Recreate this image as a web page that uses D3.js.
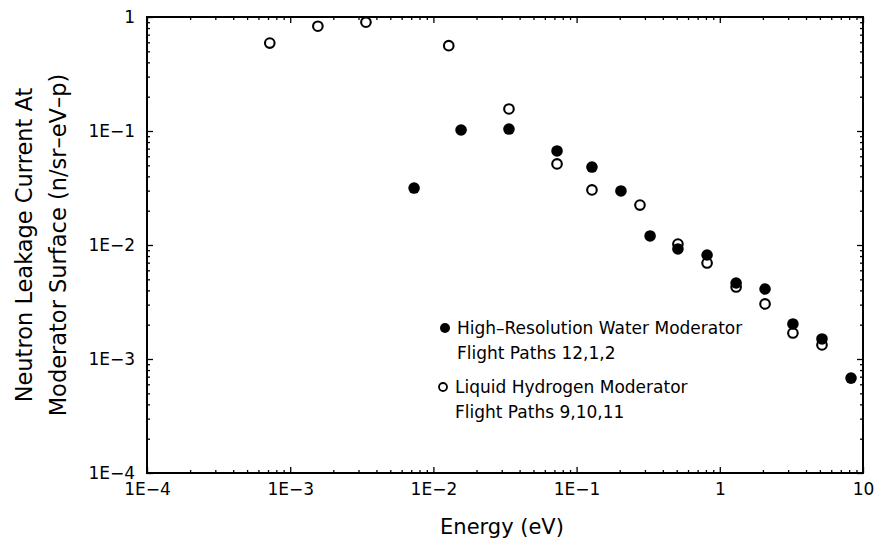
<!DOCTYPE html>
<html>
<head>
<meta charset="utf-8">
<script src="https://cdn.jsdelivr.net/npm/d3@7"></script>
<style>
  body { margin: 0; background: #fff; }
  svg { display: block; font-family: "DejaVu Sans", sans-serif; }
</style>
</head>
<body>
<div id="chart"></div>
<script>
// High-resolution water moderator, flight paths 12,1,2 (filled)
const waterEnergy = [0.00733, 0.0156, 0.0337, 0.073, 0.128, 0.204, 0.326, 0.51, 0.815, 1.30, 2.07, 3.24, 5.17, 8.25];
const waterCurrent = [0.0316, 0.102, 0.104, 0.0668, 0.0483, 0.0298, 0.0120, 0.00923, 0.00817, 0.00464, 0.00411, 0.00203, 0.00150, 0.00068];

// Liquid hydrogen moderator, flight paths 9,10,11 (open)
const hydrogenEnergy = [0.00072, 0.00156, 0.00338, 0.0128, 0.0337, 0.073, 0.128, 0.277, 0.51, 0.815, 1.30, 2.07, 3.24, 5.17];
const hydrogenCurrent = [0.59, 0.83, 0.90, 0.56, 0.156, 0.0514, 0.0304, 0.0224, 0.0102, 0.00695, 0.00428, 0.00304, 0.00169, 0.00133];

const xTicks = [1e-4, 1e-3, 1e-2, 1e-1, 1, 10];
const xTickLabels = ["1E\u22124", "1E\u22123", "1E\u22122", "1E\u22121", "1", "10"];
const yTicks = [1e-4, 1e-3, 1e-2, 1e-1, 1];
const yTickLabels = ["1E\u22124", "1E\u22123", "1E\u22122", "1E\u22121", "1"];

const width = 877, height = 543;
const margin = {top: 17, right: 14, bottom: 70, left: 147};
const iw = width - margin.left - margin.right;
const ih = height - margin.top - margin.bottom;

const svg = d3.select("#chart").append("svg")
  .attr("width", width)
  .attr("height", height);

const g = svg.append("g")
  .attr("transform", `translate(${margin.left},${margin.top})`);

const x = d3.scaleLog().domain([1e-4, 10]).range([0, iw]);
const y = d3.scaleLog().domain([1e-4, 1]).range([ih, 0]);

// minor ticks: 2..9 of every decade
const minor = (scale) => scale.ticks().filter((t) => {
  const m = t / Math.pow(10, Math.floor(Math.log10(t) + 1e-9));
  return Math.round(m) !== 1;
});

const styleAxis = (sel) => {
  sel.select(".domain").remove();
  sel.selectAll("line").attr("stroke", "#000").attr("stroke-width", 1.3);
  sel.selectAll("text").attr("fill", "#000").attr("font-size", 17)
    .attr("font-family", "DejaVu Sans, sans-serif");
};

// bottom
g.append("g").attr("transform", `translate(0,${ih})`)
  .call(d3.axisBottom(x).tickValues(xTicks).tickSizeInner(-6).tickSizeOuter(0).tickPadding(10)
    .tickFormat((d, i) => xTickLabels[i]))
  .call(styleAxis);
g.append("g").attr("transform", `translate(0,${ih})`)
  .call(d3.axisBottom(x).tickValues(minor(x)).tickSize(-3).tickFormat(""))
  .call(styleAxis);
// top
g.append("g")
  .call(d3.axisTop(x).tickValues(xTicks).tickSize(-6).tickFormat(""))
  .call(styleAxis);
g.append("g")
  .call(d3.axisTop(x).tickValues(minor(x)).tickSize(-3).tickFormat(""))
  .call(styleAxis);
// left
g.append("g")
  .call(d3.axisLeft(y).tickValues(yTicks).tickSizeInner(-6).tickSizeOuter(0).tickPadding(12)
    .tickFormat((d, i) => yTickLabels[i]))
  .call(styleAxis);
g.append("g")
  .call(d3.axisLeft(y).tickValues(minor(y)).tickSize(-3).tickFormat(""))
  .call(styleAxis);
// right
g.append("g").attr("transform", `translate(${iw},0)`)
  .call(d3.axisRight(y).tickValues(yTicks).tickSize(-6).tickFormat(""))
  .call(styleAxis);
g.append("g").attr("transform", `translate(${iw},0)`)
  .call(d3.axisRight(y).tickValues(minor(y)).tickSize(-3).tickFormat(""))
  .call(styleAxis);

// frame
g.append("rect")
  .attr("width", iw).attr("height", ih)
  .attr("fill", "none").attr("stroke", "#000").attr("stroke-width", 2);

// open circles first so filled ones sit on top
g.append("g").selectAll("circle")
  .data(hydrogenEnergy.map((e, i) => [e, hydrogenCurrent[i]]))
  .join("circle")
  .attr("cx", (d) => x(d[0]))
  .attr("cy", (d) => y(d[1]))
  .attr("r", 4.8)
  .attr("fill", "#fff")
  .attr("stroke", "#000")
  .attr("stroke-width", 2.1);

g.append("g").selectAll("circle")
  .data(waterEnergy.map((e, i) => [e, waterCurrent[i]]))
  .join("circle")
  .attr("cx", (d) => x(d[0]))
  .attr("cy", (d) => y(d[1]))
  .attr("r", 5.8)
  .attr("fill", "#000");

// axis titles
svg.append("text")
  .attr("x", margin.left + iw / 2 - 3)
  .attr("y", 534)
  .attr("text-anchor", "middle")
  .attr("font-size", 21)
  .text("Energy (eV)");

const yt = svg.append("text")
  .attr("transform", `translate(0,${margin.top + ih / 2}) rotate(-90)`)
  .attr("text-anchor", "middle")
  .attr("font-size", 22.5);
yt.append("tspan").attr("x", 0).attr("y", 32).text("Neutron Leakage Current At");
yt.append("tspan").attr("x", 0).attr("y", 66).text("Moderator Surface (n/sr\u2013eV\u2013p)");

// legend
const legend = svg.append("g").attr("font-size", 17);
legend.append("circle").attr("cx", 445).attr("cy", 328).attr("r", 5).attr("fill", "#000");
legend.append("text").attr("x", 457).attr("y", 334).text("High\u2013Resolution Water Moderator");
legend.append("text").attr("x", 457).attr("y", 359).text("Flight Paths 12,1,2");
legend.append("circle").attr("cx", 443).attr("cy", 387).attr("r", 4)
  .attr("fill", "#fff").attr("stroke", "#000").attr("stroke-width", 1.8);
legend.append("text").attr("x", 455).attr("y", 393).text("Liquid Hydrogen Moderator");
legend.append("text").attr("x", 455).attr("y", 418).text("Flight Paths 9,10,11");
</script>
</body>
</html>
